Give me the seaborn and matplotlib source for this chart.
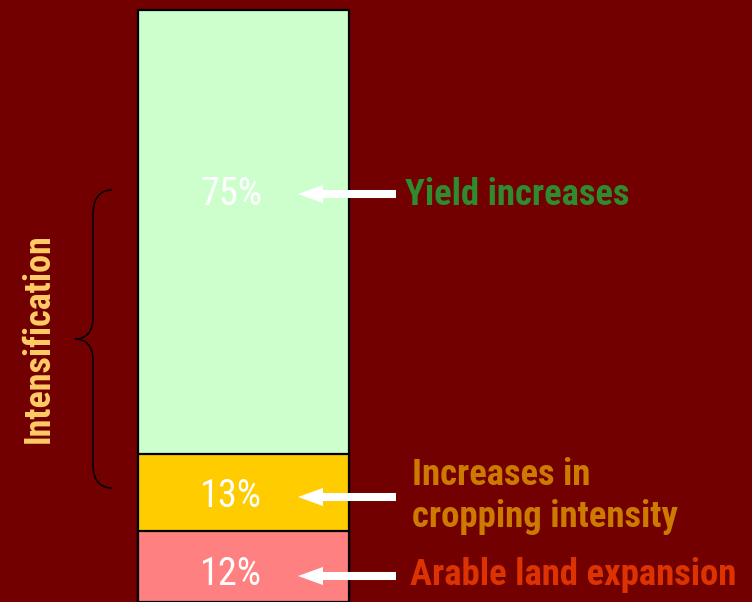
import matplotlib
matplotlib.use("Agg")
import matplotlib.pyplot as plt
import matplotlib.transforms as mtransforms
from matplotlib.path import Path
from matplotlib.patches import PathPatch, FancyArrowPatch
import pandas as pd
import seaborn as sns

# Sources of growth in crop production (shares, %)
sources = ["Arable land expansion", "Increases in cropping intensity", "Yield increases"]
shares = [12, 13, 75]
bar_colors = ["#FF8080", "#FFCC00", "#CCFFCC"]
label_colors = ["#DD3300", "#CC7A00", "#2E8B2E"]
label_texts = ["Arable land expansion", "Increases in\ncropping intensity", "Yield increases"]
group_label = "Intensification"

BG = "#720000"
W, H = 752, 602
NARROW = ["Roboto Condensed", "Archivo Narrow", "DejaVu Sans"]

sns.set_theme(style="white")
plt.rcParams["font.family"] = NARROW

fig = plt.figure(figsize=(W / 100, H / 100), dpi=100, facecolor=BG)
ax = fig.add_axes([138 / W, 0, 211 / W, 592 / H])
ax.set_facecolor(BG)

# stacked bar: draw cumulative totals from the top segment down
cum = pd.Series(shares).cumsum().tolist()
df = pd.DataFrame({"group": ["growth"] * len(shares), "cum": cum, "source": sources})
for i in reversed(range(len(shares))):
    sns.barplot(data=df.iloc[[i]], x="group", y="cum", color=bar_colors[i],
                width=1.0, edgecolor="black", linewidth=1.6, saturation=1, ax=ax)
for p in ax.patches:
    p.set_clip_on(False)

ax.set_xlim(-0.5, 0.5)
ax.set_ylim(0, 100)
ax.axis("off")

# pixel-based transform for annotations (origin top-left)
px = mtransforms.Affine2D().scale(1 / W, -1 / H).translate(0, 1) + fig.transFigure

# percentage labels inside the bar, arrows and source names
pct_baselines = [585, 507, 205]
arrow_y = [576, 497, 194]
name_pos = [(410, 585), (412, 527), (405, 205)]
for i in range(len(shares)):
    fig.text(200, pct_baselines[i], f"{shares[i]}%", transform=px, color="white",
             fontsize=27.5, ha="left", va="baseline")
    fig.add_artist(FancyArrowPatch(
        (396, arrow_y[i]), (298, arrow_y[i]), transform=px,
        arrowstyle="simple,head_length=18,head_width=13,tail_width=5.8",
        mutation_scale=1, color="white", shrinkA=0, shrinkB=0, lw=0))
    fig.text(name_pos[i][0], name_pos[i][1], label_texts[i], transform=px,
             color=label_colors[i], fontsize=26.5, fontweight="bold",
             ha="left", va="baseline", linespacing=1.2)

# brace grouping the intensification sources
verts = [(112, 190), (100, 190), (93, 198), (93, 215),
         (93, 318),
         (93, 332), (86, 339), (75, 339),
         (86, 339), (93, 346), (93, 360),
         (93, 465),
         (93, 480), (100, 488), (112, 488)]
codes = [Path.MOVETO, Path.CURVE4, Path.CURVE4, Path.CURVE4,
         Path.LINETO,
         Path.CURVE4, Path.CURVE4, Path.CURVE4,
         Path.CURVE4, Path.CURVE4, Path.CURVE4,
         Path.LINETO,
         Path.CURVE4, Path.CURVE4, Path.CURVE4]
fig.add_artist(PathPatch(Path(verts, codes), transform=px, facecolor="none",
                         edgecolor="black", lw=1.1))

fig.text(39, 338, group_label, transform=px, rotation=90, color="#FFCC66",
         fontsize=26, fontweight="bold", ha="center", va="center")

fig.savefig("out.png", dpi=100, facecolor=BG)
